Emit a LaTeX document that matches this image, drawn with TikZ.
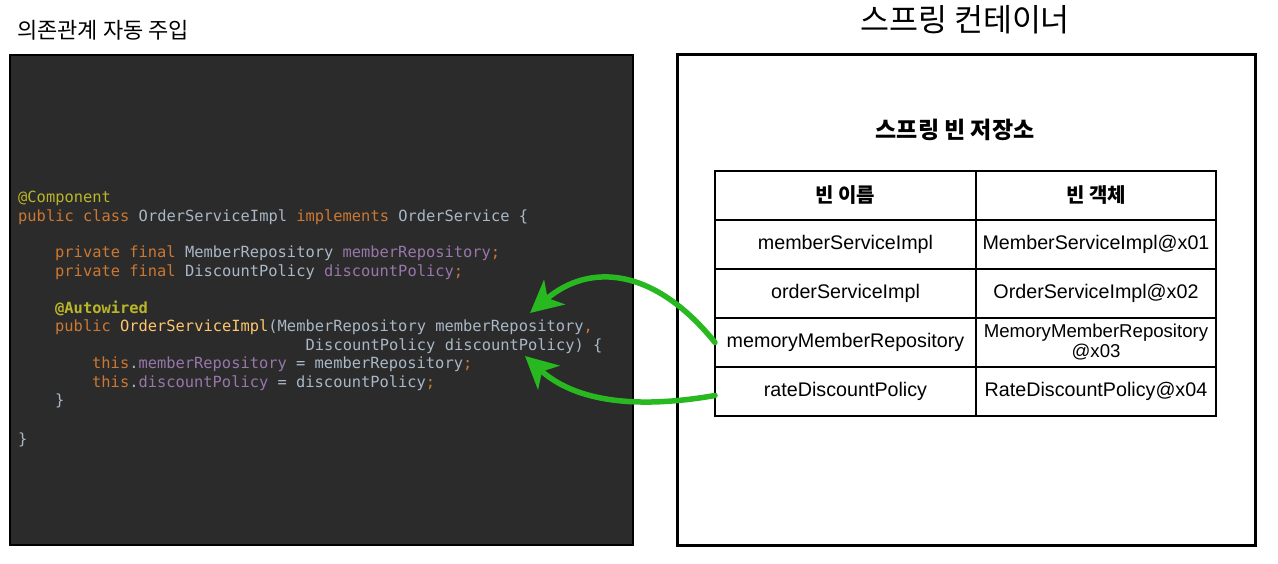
\documentclass[tikz,border=0pt]{standalone}
\usepackage{fontspec}
\setmainfont{Liberation Sans}
\setmonofont{DejaVu Sans Mono}
\newfontfamily\krfont{Noto Sans CJK KR}
\usetikzlibrary{arrows.meta,positioning}
\definecolor{codebg}{HTML}{2B2B2B}
\definecolor{kw}{HTML}{CC7832}
\definecolor{ann}{HTML}{BBB529}
\definecolor{fld}{HTML}{9876AA}
\definecolor{txt}{HTML}{A9B7C6}
\definecolor{fn}{HTML}{FFC66D}
\definecolor{injectgreen}{RGB}{40,184,32}

\begin{document}
\begin{tikzpicture}[
  x=1pt, y=-1pt,
  panel/.style={draw=black,anchor=north west,inner sep=0pt,outer sep=0pt},
  codeline/.style={anchor=base west,inner sep=0pt,text=txt,
    font=\fontsize{15.4}{18}\ttfamily},
  cell/.style={draw=black,line width=1.3pt,inner sep=0pt,outer sep=0pt,
    minimum height=49pt,align=center,font=\fontsize{19.7}{21}\selectfont},
  headcell/.style={cell,font=\fontsize{20}{22}\krfont\bfseries},
  inject/.style={draw=injectgreen,line width=5.5pt,line cap=round,
    -{Stealth[length=32pt,width=32pt,inset=9pt]}}
]
\useasboundingbox (0,0) rectangle (1278,564);

% Left panel: source code
\node[panel,line width=2.5pt,fill=codebg,minimum width=623pt,minimum height=490pt]
  (codepanel) at (10,55) {};
\node[anchor=west,inner sep=0pt,font=\fontsize{22}{24}\krfont]
  (codetitle) at (17,30) {의존관계 자동 주입};

% Code lines
\node[codeline,text=ann] (line1) at (18,203) {@Component};
\node[codeline] (line2) at (18,221.5)
  {\textcolor{kw}{public class} OrderServiceImpl \textcolor{kw}{implements} OrderService \{};
\node[codeline] (line4) at (55,258)
  {\textcolor{kw}{private final} MemberRepository \textcolor{fld}{memberRepository}\textcolor{kw}{;}};
\node[codeline] (line5) at (55,276.5)
  {\textcolor{kw}{private final} DiscountPolicy \textcolor{fld}{discountPolicy}\textcolor{kw}{;}};
\node[codeline,text=ann] (line7) at (55,313) {\bfseries @Autowired};
\node[codeline] (line8) at (55,331.5)
  {\textcolor{kw}{public} \textcolor{fn}{OrderServiceImpl}(MemberRepository memberRepository\textcolor{kw}{,}};
\node[codeline] (line9) at (305.5,350) {DiscountPolicy discountPolicy) \{};
\node[codeline] (line10) at (92,368.5)
  {\textcolor{kw}{this}.\textcolor{fld}{memberRepository} = memberRepository\textcolor{kw}{;}};
\node[codeline] (line11) at (92,387)
  {\textcolor{kw}{this}.\textcolor{fld}{discountPolicy} = discountPolicy\textcolor{kw}{;}};
\node[codeline] (line12) at (55,405.5) {\}};
\node[codeline] (line14) at (18,444) {\}};

% Right panel: spring container
\node[panel,line width=3pt,fill=white,minimum width=578pt,minimum height=490pt]
  (container) at (677,55) {};
\node[font=\fontsize{31.5}{34}\krfont,inner sep=0pt] (containertitle) at (965,20) {스프링 컨테이너};
\node[font=\fontsize{23}{25}\krfont\bfseries,inner sep=0pt] (storetitle) at (955,130) {스프링 빈 저장소};

% Bean table
\node[headcell,minimum width=261pt] (h1) at (845.5,195.5) {빈 이름};
\node[headcell,minimum width=240pt,right=0pt of h1] (h2) {빈 객체};
\node[cell,minimum width=261pt,below=0pt of h1] (n1) {memberServiceImpl};
\node[cell,minimum width=240pt,below=0pt of h2] (o1) {MemberServiceImpl@x01};
\node[cell,minimum width=261pt,below=0pt of n1] (n2) {orderServiceImpl};
\node[cell,minimum width=240pt,below=0pt of o1] (o2) {OrderServiceImpl@x02};
\node[cell,minimum width=261pt,below=0pt of n2] (n3) {memoryMemberRepository};
\node[cell,minimum width=240pt,below=0pt of o2,font=\fontsize{18.6}{20}\selectfont]
  (o3) {MemoryMemberRepository\\@x03};
\node[cell,minimum width=261pt,below=0pt of n3] (n4) {rateDiscountPolicy};
\node[cell,minimum width=240pt,below=0pt of o3] (o4) {RateDiscountPolicy@x04};

% Injection arrows
\coordinate (slot1) at (530,313);
\coordinate (slot2) at (525,356);
\draw[inject] (n3.west) .. controls (655,268) and (590,262) .. (slot1);
\draw[inject] ([yshift=-4pt]n4.west) .. controls (620,412) and (568,395) .. (slot2);
\end{tikzpicture}
\end{document}
